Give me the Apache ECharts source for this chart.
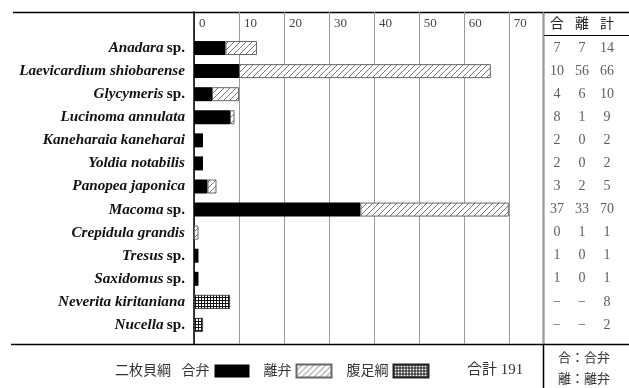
<!DOCTYPE html>
<html>
<head>
<meta charset="utf-8">
<script src="https://cdn.jsdelivr.net/npm/echarts@6/dist/echarts.min.js"></script>
<style>
html, body { margin: 0; padding: 0; background: #fff; }
#chart { width: 629px; height: 388px; }
</style>
</head>
<body>
<div id="chart"></div>
<script>
var species = ['Anadara sp.', 'Laevicardium shiobarense', 'Glycymeris sp.', 'Lucinoma annulata',
  'Kaneharaia kaneharai', 'Yoldia notabilis', 'Panopea japonica', 'Macoma sp.', 'Crepidula grandis',
  'Tresus sp.', 'Saxidomus sp.', 'Neverita kiritaniana', 'Nucella sp.'];
var gouben = [7, 10, 4, 8, 2, 2, 3, 37, 0, 1, 1, null, null];     // 合弁
var riben = [7, 56, 6, 1, 0, 0, 2, 33, 1, 0, 0, null, null];      // 離弁
var fukusoku = [null, null, null, null, null, null, null, null, null, null, null, 8, 2]; // 腹足綱
var totals = [14, 66, 10, 9, 2, 2, 5, 70, 1, 1, 1, 8, 2];
var tableCols = ['合', '離', '計'];
var grandTotal = 191;
var xMax = 77.6;

var serif = "'Liberation Serif', 'Noto Sans CJK JP', serif";
var myChart = echarts.init(document.getElementById('chart'));

function hatchPattern() {
  var c = document.createElement('canvas');
  c.width = 6; c.height = 6;
  var g = c.getContext('2d');
  g.fillStyle = '#fff';
  g.fillRect(0, 0, 6, 6);
  g.strokeStyle = '#666';
  g.lineWidth = 0.9;
  g.beginPath();
  g.moveTo(0, 6); g.lineTo(6, 0);
  g.moveTo(-1, 1); g.lineTo(1, -1);
  g.moveTo(5, 7); g.lineTo(7, 5);
  g.stroke();
  return c;
}

function meshPattern() {
  var c = document.createElement('canvas');
  c.width = 3; c.height = 3;
  var g = c.getContext('2d');
  g.fillStyle = '#111';
  g.fillRect(0, 0, 3, 3);
  g.fillStyle = '#fff';
  g.fillRect(1, 1, 2, 2);
  return c;
}

// zero widths are not drawn
function bars(arr) {
  return arr.map(function (v) { return v ? v : '-'; });
}

function dash(v) {
  return v === null ? '−' : String(v);
}

var tableData = [];
species.forEach(function (s, i) {
  tableData.push([0, i, dash(gouben[i])]);
  tableData.push([1, i, dash(riben[i])]);
  tableData.push([2, i, String(totals[i])]);
});

function line(x1, y1, x2, y2, w) {
  return { type: 'line', shape: { x1: x1, y1: y1, x2: x2, y2: y2 }, style: { stroke: '#000', lineWidth: w }, silent: true };
}

var option = {
  animation: false,
  backgroundColor: '#fff',
  grid: [
    { left: 194, right: 86, top: 12, bottom: 44, outerBoundsMode: 'none' },
    { left: 194, right: 86, top: 36.5, bottom: 51.5, outerBoundsMode: 'none' },
    { left: 544.5, right: 9.5, top: 36.5, bottom: 51.5, outerBoundsMode: 'none' }
  ],
  xAxis: [
    {
      gridIndex: 0, type: 'value', position: 'top', min: 0, max: xMax, interval: 10,
      axisLine: { show: false }, axisTick: { show: false },
      axisLabel: {
        inside: true, margin: 5, align: 'left', padding: [0, 0, 0, 5], showMaxLabel: false,
        fontFamily: serif, fontSize: 13, color: '#444'
      },
      splitLine: { show: true, lineStyle: { color: '#999', width: 1 } }
    },
    { gridIndex: 1, type: 'value', min: 0, max: xMax, show: false },
    {
      gridIndex: 2, type: 'category', data: tableCols, position: 'top',
      axisLine: { show: false }, axisTick: { show: false }, splitLine: { show: false },
      axisLabel: { margin: 5, fontFamily: serif, fontSize: 14, color: '#222' }
    }
  ],
  yAxis: [
    {
      gridIndex: 0, type: 'value', min: 0, max: 1,
      axisLine: { show: true, lineStyle: { color: '#000', width: 1.5 } },
      axisTick: { show: false }, axisLabel: { show: false }, splitLine: { show: false }
    },
    {
      gridIndex: 1, type: 'category', data: species, inverse: true,
      axisLine: { show: false }, axisTick: { show: false },
      axisLabel: {
        margin: 9,
        formatter: function (v) {
          if (v.slice(-4) === ' sp.') return '{i|' + v.slice(0, -4) + '} {b|sp.}';
          return '{i|' + v + '}';
        },
        rich: {
          i: { fontFamily: serif, fontStyle: 'italic', fontWeight: 'bold', fontSize: 15.2, color: '#111' },
          b: { fontFamily: serif, fontWeight: 'bold', fontSize: 15.2, color: '#111' }
        }
      }
    },
    { gridIndex: 2, type: 'category', data: species, inverse: true, show: false }
  ],
  legend: {
    left: 110, top: 358.5, align: 'right', icon: 'rect',
    itemWidth: 35, itemHeight: 13, itemGap: 14, selectedMode: false,
    data: ['合弁', '離弁', '腹足綱'],
    formatter: function (n) { return n === '合弁' ? '二枚貝綱   合弁' : n; },
    textStyle: { fontFamily: serif, fontSize: 14, color: '#333' }
  },
  series: [
    {
      name: '合弁', type: 'bar', stack: 'a', xAxisIndex: 1, yAxisIndex: 1, barWidth: 14,
      itemStyle: { color: '#000' },
      data: bars(gouben)
    },
    {
      name: '離弁', type: 'bar', stack: 'a', xAxisIndex: 1, yAxisIndex: 1, barWidth: 14,
      itemStyle: { color: { image: hatchPattern(), repeat: 'repeat' }, borderColor: '#666', borderWidth: 1 },
      data: bars(riben)
    },
    {
      name: '腹足綱', type: 'bar', stack: 'a', xAxisIndex: 1, yAxisIndex: 1, barWidth: 14,
      itemStyle: { color: { image: meshPattern(), repeat: 'repeat' }, borderColor: '#222', borderWidth: 0.8 },
      data: bars(fukusoku)
    },
    {
      type: 'scatter', xAxisIndex: 2, yAxisIndex: 2, symbolSize: 0,
      label: {
        show: true, position: 'inside',
        formatter: function (p) { return p.value[2]; },
        fontFamily: serif, fontSize: 14, color: '#333'
      },
      data: tableData
    }
  ],
  graphic: [
    line(13, 12.5, 629, 12.5, 1.5),
    line(11, 344.5, 629, 344.5, 1.5),
    line(543.5, 12, 543.5, 388, 1.5),
    line(543, 35.5, 629, 35.5, 1),
    { type: 'text', left: 467, top: 363, style: { text: '合計 ' + grandTotal, font: '15px ' + serif, fill: '#333' } },
    { type: 'text', left: 558, top: 352, style: { text: '合：合弁', font: '13px ' + serif, fill: '#333' } },
    { type: 'text', left: 558, top: 373, style: { text: '離：離弁', font: '13px ' + serif, fill: '#333' } }
  ]
};

myChart.setOption(option);
</script>
</body>
</html>
